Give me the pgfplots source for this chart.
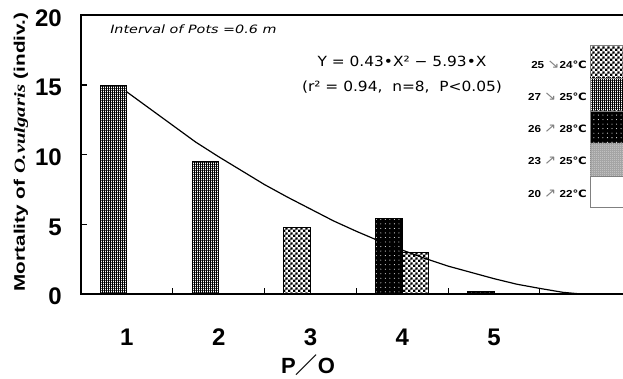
\documentclass[border=0pt]{standalone}
\usepackage{fontspec}
\setmainfont{Liberation Sans}
\newfontfamily\dejavu{DejaVu Sans}
\newfontfamily\lserif{Liberation Serif}
\newfontfamily\cjk{Noto Sans CJK JP}
\usepackage{graphicx}
\usepackage{pgfplots}
\pgfplotsset{compat=1.18}
\usetikzlibrary{patterns}

\pgfdeclarepatternformonly{finegrid}{\pgfpoint{-0.4pt}{-0.4pt}}{\pgfpoint{1.1pt}{1.1pt}}{\pgfpoint{1.5pt}{1.5pt}}{%
  \pgfsetlinewidth{0.62pt}%
  \pgfpathmoveto{\pgfpoint{0pt}{-0.4pt}}\pgfpathlineto{\pgfpoint{0pt}{1.1pt}}%
  \pgfpathmoveto{\pgfpoint{-0.4pt}{0pt}}\pgfpathlineto{\pgfpoint{1.1pt}{0pt}}%
  \pgfusepath{stroke}}
\pgfdeclarepatternformonly{smallchecker}{\pgfpointorigin}{\pgfpoint{3.6pt}{3.6pt}}{\pgfpoint{3.6pt}{3.6pt}}{%
  \pgfpathrectangle{\pgfpointorigin}{\pgfpoint{1.9pt}{1.9pt}}%
  \pgfpathrectangle{\pgfpoint{1.8pt}{1.8pt}}{\pgfpoint{1.8pt}{1.8pt}}%
  \pgfusepath{fill}}
\pgfdeclarepatternformonly{sparsedots}{\pgfpoint{-0.5pt}{-0.5pt}}{\pgfpoint{0.5pt}{0.5pt}}{\pgfpoint{3.4pt}{3.4pt}}{%
  \pgfpathcircle{\pgfpointorigin}{0.4pt}\pgfusepath{fill}}
\pgfdeclarepatternformonly{tinychecker}{\pgfpointorigin}{\pgfpoint{1.5pt}{1.5pt}}{\pgfpoint{1.5pt}{1.5pt}}{%
  \pgfpathrectangle{\pgfpointorigin}{\pgfpoint{0.75pt}{0.75pt}}%
  \pgfpathrectangle{\pgfpoint{0.75pt}{0.75pt}}{\pgfpoint{0.75pt}{0.75pt}}%
  \pgfusepath{fill}}

\tikzset{
  gridbar/.style={draw=black, line width=0.7pt, pattern=finegrid, pattern color=black},
  checkbar/.style={draw=black, line width=0.7pt, pattern=smallchecker, pattern color=black},
  dotbar/.style={draw=black, line width=0.7pt, fill=black, postaction={pattern=sparsedots, pattern color=white}},
  graybar/.style={draw=black, line width=0.7pt, fill=gray!75, postaction={pattern=tinychecker, pattern color=gray!35}},
}

\begin{document}
\begin{tikzpicture}
\useasboundingbox (0,0) rectangle (467.25pt,283.5pt);
\clip (0,0) rectangle (467.25pt,283.5pt);
\begin{axis}[
  at={(60.75pt,63pt)}, anchor=south west,
  scale only axis, width=409.6pt, height=209pt,
  xmin=0.5, xmax=6.45, ymin=0, ymax=20,
  axis line style={line width=1.4pt},
  tick style={line width=0.8pt, black},
  tick align=inside, tick pos=left,
  major tick length=4.5pt,
  xtick={1.5,2.5,3.5,4.5,5.5}, xticklabels={,,,,},
  extra x ticks={1,2,3,4,5}, extra x tick labels={1,2,3,4,5},
  extra x tick style={major tick length=0pt},
  ytick={0,5,10,15,20}, yticklabels={0,5,10,15,20},
  /pgf/number format/assume math mode=true,
  xticklabel style={font=\fontsize{18}{18}\selectfont\bfseries, anchor=base, yshift=-38.25pt},
  yticklabel style={font=\fontsize{18}{18}\selectfont\bfseries, anchor=east, inner sep=0pt, xshift=-14.25pt, yshift=-1.9pt},
]
\addplot[ybar, bar width=0.29, bar shift=-0.145, gridbar] coordinates {(1,15) (2,9.5)};
\addplot[ybar, bar width=0.29, bar shift=-0.145, checkbar] coordinates {(3,4.8)};
\addplot[ybar, bar width=0.29, bar shift=0.145, checkbar] coordinates {(4,2.95)};
\addplot[ybar, bar width=0.29, bar shift=-0.145, dotbar] coordinates {(4,5.4) (5,0.2)};
\addplot[black, line width=0.9pt, no marks] coordinates {
 (1,14.5) (1.25,13.3) (1.5,12.1) (1.75,10.9) (2,9.85) (2.25,8.85) (2.5,7.85)
 (2.75,6.95) (3,6.1) (3.25,5.25) (3.5,4.5) (3.75,3.8) (4,3.15) (4.25,2.55)
 (4.5,2.0) (4.75,1.55) (5,1.1) (5.25,0.7) (5.5,0.4) (5.75,0.12) (5.95,0)};
\end{axis}

% texts
\node[anchor=west, inner sep=0pt, font=\dejavu\itshape\fontsize{8.6}{10}\selectfont] at (82.5pt,261.75pt) {\scalebox{1.25}[1]{Interval of Pots =0.6 m}};
\node[inner sep=0pt, font=\dejavu\fontsize{10.5}{12}\selectfont] at (301.5pt,237.75pt) {\scalebox{1.1}[1]{Y = 0.43•X²{} − 5.93•X}};
\node[inner sep=0pt, font=\dejavu\fontsize{10.5}{12}\selectfont] at (301.5pt,218.25pt) {\scalebox{1.1}[1]{(r²{} = 0.94,\ \ n=8,\ \ P<0.05)}};
\node[rotate=90, inner sep=0pt, font=\bfseries\fontsize{11.5}{12}\selectfont] at (15.75pt,169.5pt) {\scalebox{1.35}[1]{Mortality of {\lserif\itshape O.vulgaris} (indiv.)}};
\node[inner sep=0pt, font=\bfseries\fontsize{16.5}{18}\selectfont] at (231pt,9.75pt) {P{\cjk ／}O};

% legend
\draw[checkbar, draw=gray, line width=0.5pt] (442.5pt,249.2pt) rectangle (480pt,225pt);
\draw[gridbar, draw=gray, line width=0.5pt] (442.5pt,225pt) rectangle (480pt,200.25pt);
\draw[dotbar, draw=gray, line width=0.5pt] (442.5pt,200.25pt) rectangle (480pt,176.25pt);
\draw[graybar, draw=gray, line width=0.5pt] (442.5pt,176.25pt) rectangle (480pt,151.5pt);
\draw[draw=gray, line width=0.5pt, fill=white] (442.5pt,151.5pt) rectangle (480pt,128.25pt);
\begin{scope}[every node/.style={anchor=east, inner sep=0pt, font=\bfseries\fontsize{7.6}{8}\selectfont}]
\node at (440.25pt,234.75pt) {\scalebox{1.15}[1]{25 {\dejavu\mdseries\fontsize{9.5}{9}\selectfont\color{gray}↘}24{\dejavu ℃}}};
\node at (440.25pt,210.75pt) {\scalebox{1.15}[1]{27 {\dejavu\mdseries\fontsize{9.5}{9}\selectfont\color{gray}↘} 25{\dejavu ℃}}};
\node at (440.25pt,186.75pt) {\scalebox{1.15}[1]{26 {\dejavu\mdseries\fontsize{9.5}{9}\selectfont\color{gray}↗} 28{\dejavu ℃}}};
\node at (440.25pt,162.75pt) {\scalebox{1.15}[1]{23 {\dejavu\mdseries\fontsize{9.5}{9}\selectfont\color{gray}↗} 25{\dejavu ℃}}};
\node at (440.25pt,138pt) {\scalebox{1.15}[1]{20 {\dejavu\mdseries\fontsize{9.5}{9}\selectfont\color{gray}↗} 22{\dejavu ℃}}};
\end{scope}
\end{tikzpicture}
\end{document}
